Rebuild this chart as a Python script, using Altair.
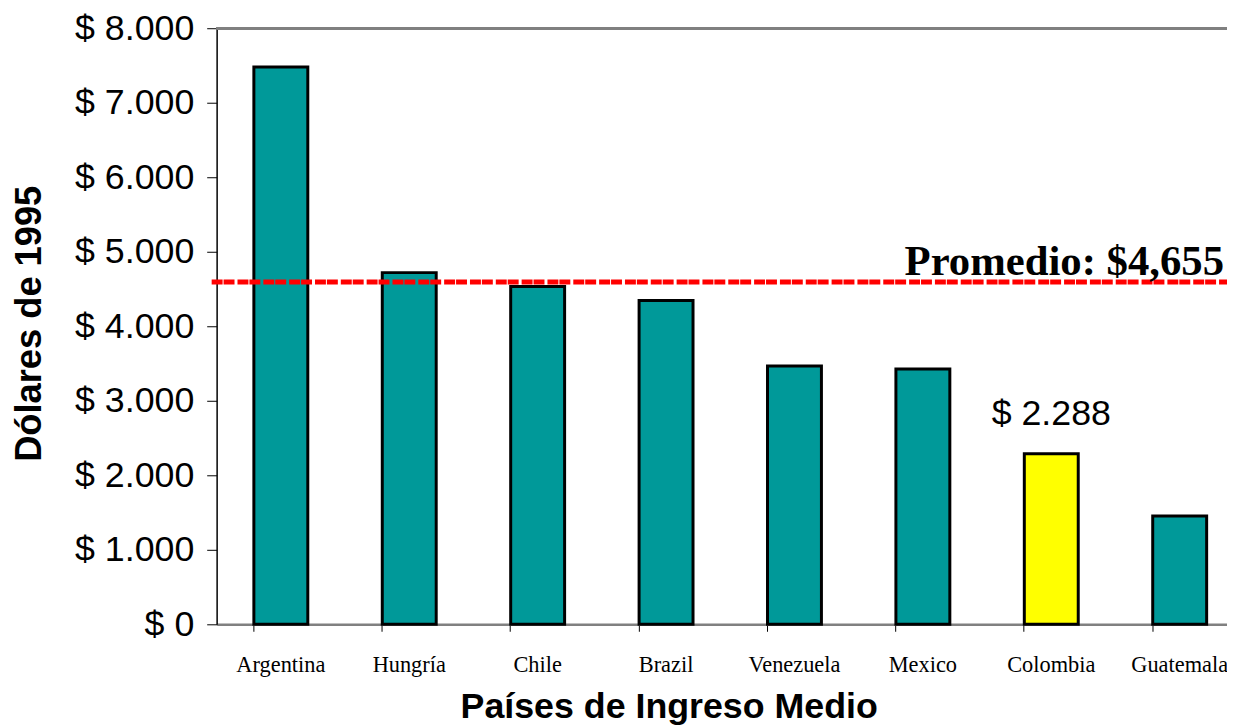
import altair as alt
import pandas as pd

countries = ["Argentina", "Hungría", "Chile", "Brazil", "Venezuela", "Mexico", "Colombia", "Guatemala"]
values = [7480, 4720, 4533, 4347, 3467, 3427, 2288, 1453]
highlight = ["no", "no", "no", "no", "no", "no", "yes", "no"]
average_line = [4595]
average_label = ["Promedio: $4,655"]
bar_label_country = ["Colombia"]
bar_label_value = [2288]
bar_label_text = ["$ 2.288"]

df = pd.DataFrame({"pais": countries, "valor": values, "hl": highlight})
avg_df = pd.DataFrame({"valor": average_line, "label": average_label})
lab_df = pd.DataFrame({"pais": bar_label_country, "valor": bar_label_value, "label": bar_label_text})

W = 1008
H = 600

xscale = alt.Scale(domain=countries, range=[0, 1034], paddingInner=0.58, paddingOuter=0.29)
yscale = alt.Scale(domain=[0, 8000], nice=False)

x_enc = alt.X(
    "pais:N", scale=xscale, sort=countries,
    axis=alt.Axis(
        title="Países de Ingreso Medio", bandPosition=0, labelAngle=0,
        labelFont="Liberation Serif", labelFontSize=22.5, labelColor="black",
        labelBaseline="alphabetic", labelPadding=41,
        tickColor="black", tickSize=7, tickWidth=1,
        domainColor="#808080", domainWidth=2.5,
        titleFont="Liberation Sans", titleFontSize=36, titleFontWeight="bold",
        titleColor="black", titleX=455, titleY=94, titleBaseline="alphabetic",
        titleAlign="center", grid=False,
    ),
)
y_enc = alt.Y(
    "valor:Q", scale=yscale,
    axis=alt.Axis(
        title="Dólares de 1995", values=[0, 1000, 2000, 3000, 4000, 5000, 6000, 7000, 8000],
        labelExpr="'$ ' + replace(format(datum.value, ',.0f'), ',', '.')",
        labelFont="Liberation Sans", labelFontSize=36, labelColor="black",
        labelPadding=13, tickColor="black", tickSize=10, tickWidth=1,
        domainColor="black", domainWidth=1.5,
        titleFont="Liberation Sans", titleFontSize=36.5, titleFontWeight="bold",
        titleColor="black", titleX=-177, titleY=297, titleBaseline="alphabetic",
        titleAlign="center", titleAngle=270, grid=False,
    ),
)

bars = alt.Chart(df).mark_bar(stroke="black", strokeWidth=3).encode(
    x=x_enc,
    y=y_enc,
    color=alt.Color("hl:N", scale=alt.Scale(domain=["no", "yes"], range=["#009999", "#FFFF00"]), legend=None),
)

top_border = alt.Chart(df).mark_rule(color="#808080", strokeWidth=2.5).encode(
    x=alt.value(0), x2=alt.value(W + 12), y=alt.value(0)
)

avg_rule = alt.Chart(avg_df).mark_rule(color="#FF0000", strokeWidth=5, strokeDash=[11, 1, 11, 3]).encode(
    y=alt.Y("valor:Q", scale=yscale), x=alt.value(-5), x2=alt.value(W + 12)
)

avg_text = alt.Chart(avg_df).mark_text(
    align="right", baseline="alphabetic", dy=-6.5, font="Liberation Serif",
    fontSize=43, fontWeight="bold", color="black",
).encode(y=alt.Y("valor:Q", scale=yscale), x=alt.value(1014), text="label:N")

bar_text = alt.Chart(lab_df).mark_text(
    align="center", baseline="alphabetic", dy=-29, font="Liberation Sans",
    fontSize=36, color="black",
).encode(x=alt.X("pais:N", scale=xscale, sort=countries), y=alt.Y("valor:Q", scale=yscale), text="label:N")

chart = alt.layer(top_border, bars, avg_rule, avg_text, bar_text).properties(
    width=W, height=H,
    autosize=alt.AutoSizeParams(type="none"),
    padding={"left": 210, "top": 18, "right": 9, "bottom": 100},
).configure(
    background="white",
    view=alt.ViewConfig(stroke="transparent", strokeWidth=0),
)

chart.save("out.html", embed_options={"renderer": "svg", "actions": False})
